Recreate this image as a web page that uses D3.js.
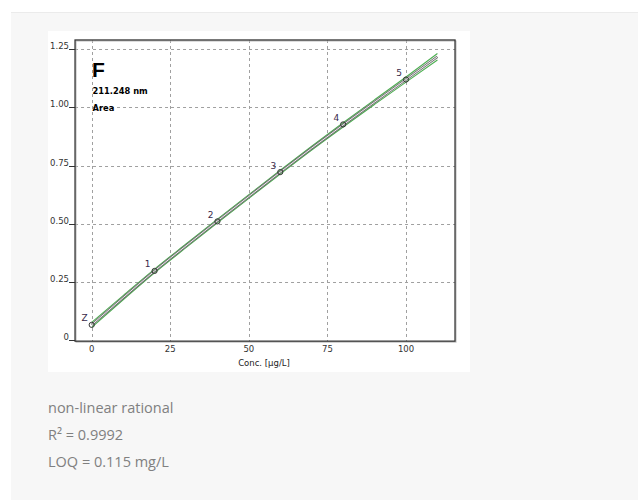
<!DOCTYPE html>
<html><head><meta charset="utf-8">
<script src="https://cdn.jsdelivr.net/npm/d3@7/dist/d3.min.js"></script>
<style>html,body{margin:0;padding:0;background:#fff;}svg{display:block;}</style>
</head><body>
<script>
// Calibration standards (concentration µg/L, area)
const stdLabels = ["Z", "1", "2", "3", "4", "5"];
const stdConc = [0, 20, 40, 60, 80, 100];
const stdArea = [0.065, 0.297, 0.51, 0.722, 0.927, 1.12];
// Fitted curve and confidence band
const curveConc = [0, 10, 20, 30, 40, 50, 60, 70, 80, 90, 100, 110];
const curveArea = [0.065, 0.182, 0.297, 0.405, 0.512, 0.617, 0.722, 0.825, 0.925, 1.023, 1.12, 1.218];
const bandUpper = [0.076, 0.191, 0.305, 0.413, 0.520, 0.625, 0.730, 0.833, 0.934, 1.033, 1.131, 1.232];
const bandLower = [0.054, 0.173, 0.289, 0.397, 0.504, 0.609, 0.714, 0.817, 0.916, 1.013, 1.109, 1.204];
const xTicks = [0, 25, 50, 75, 100];
const yTicks = [0, 0.25, 0.5, 0.75, 1.0, 1.25];
const yTickLabels = ["0", "0.25", "0.50", "0.75", "1.00", "1.25"];
const infoLines = ["non-linear rational", "R² = 0.9992", "LOQ = 0.115 mg/L"];

const W = 638, H = 500;
const svg = d3.select("body").append("svg").attr("width", W).attr("height", H);

// page panels
svg.append("rect").attr("x", 0).attr("y", 0).attr("width", W).attr("height", H).attr("fill", "#ffffff");
svg.append("rect").attr("x", 11).attr("y", 12).attr("width", W - 11).attr("height", H - 12).attr("fill", "#f7f7f7");
svg.append("line").attr("x1", 11).attr("x2", W).attr("y1", 12.5).attr("y2", 12.5).attr("stroke", "#ebebeb");
svg.append("rect").attr("x", 48).attr("y", 31).attr("width", 422).attr("height", 341).attr("fill", "#ffffff");

const x = d3.scaleLinear().domain([0, 100]).range([91.7, 406]);
const y = d3.scaleLinear().domain([0, 1.25]).range([340, 49.3]);
const xMin = -5.3, xMax = 115.6, yMin = -0.005, yMax = 1.29;
const L = x(xMin), R = x(xMax), T = y(yMax), B = y(yMin);

const font = "'DejaVu Sans', Verdana, sans-serif";

// grid
const g = svg.append("g");
g.selectAll(".gx").data(xTicks).join("line")
  .attr("x1", d => Math.round(x(d)) + 0.5).attr("x2", d => Math.round(x(d)) + 0.5)
  .attr("y1", T).attr("y2", B)
  .attr("stroke", "#a0a0a0").attr("stroke-dasharray", "3,3");
g.selectAll(".gy").data(yTicks.filter(d => d > 0)).join("line")
  .attr("x1", L).attr("x2", R)
  .attr("y1", d => Math.round(y(d)) + 0.5).attr("y2", d => Math.round(y(d)) + 0.5)
  .attr("stroke", "#a0a0a0").attr("stroke-dasharray", "3,3");

// y tick marks and labels
g.selectAll(".ty").data(yTicks).join("line")
  .attr("x1", L - 6).attr("x2", L)
  .attr("y1", d => Math.round(y(d)) + 0.5).attr("y2", d => Math.round(y(d)) + 0.5)
  .attr("stroke", "#333");
g.selectAll(".ly").data(yTicks).join("text")
  .attr("x", L - 6).attr("y", d => y(d))
  .attr("text-anchor", "end").attr("font-family", font).attr("font-size", 8.5).attr("fill", "#333")
  .text((d, i) => yTickLabels[i]);

// x labels
g.selectAll(".lx").data(xTicks).join("text")
  .attr("x", d => x(d)).attr("y", 352)
  .attr("text-anchor", "middle").attr("font-family", font).attr("font-size", 8.5).attr("fill", "#333")
  .text(d => d);
svg.append("text").attr("x", 264).attr("y", 366).attr("text-anchor", "middle")
  .attr("font-family", font).attr("font-size", 8.5).attr("fill", "#222").text("Conc. [µg/L]");

// frame with slight shadow
svg.append("rect").attr("x", L + 1).attr("y", T + 1).attr("width", R - L).attr("height", B - T)
  .attr("fill", "none").attr("stroke", "#bbb").attr("stroke-width", 1);
svg.append("rect").attr("x", L).attr("y", T).attr("width", R - L).attr("height", B - T)
  .attr("fill", "none").attr("stroke", "#333").attr("stroke-width", 1.3);

// curves
const lineGen = arr => d3.line().x((d, i) => x(curveConc[i])).y(d => y(d)).curve(d3.curveMonotoneX)(arr);
svg.append("path").attr("d", lineGen(bandUpper)).attr("fill", "none").attr("stroke", "#4caf50").attr("stroke-width", 1.1);
svg.append("path").attr("d", lineGen(bandLower)).attr("fill", "none").attr("stroke", "#4caf50").attr("stroke-width", 1.1);
svg.append("path").attr("d", lineGen(curveArea)).attr("fill", "none").attr("stroke", "#707070").attr("stroke-width", 2.6);
svg.append("path").attr("d", lineGen(curveArea)).attr("fill", "none").attr("stroke", "#ffffff").attr("stroke-width", 0.9);

// standards
svg.selectAll(".pt").data(stdConc).join("circle")
  .attr("cx", d => x(d)).attr("cy", (d, i) => y(stdArea[i])).attr("r", 2.6)
  .attr("fill", "none").attr("stroke", "#333").attr("stroke-width", 1);
svg.selectAll(".pl").data(stdConc).join("text")
  .attr("x", d => x(d) - 4).attr("y", (d, i) => y(stdArea[i]) - 3.5)
  .attr("text-anchor", "end").attr("font-family", font).attr("font-size", 9).attr("fill", "#3a2a4a")
  .text((d, i) => stdLabels[i]);

// titles
svg.append("text").attr("x", 92).attr("y", 77).attr("font-family", "'Liberation Sans', Arial, sans-serif")
  .attr("font-weight", "bold").attr("font-size", 21).attr("fill", "#000").text("F");
svg.append("text").attr("x", 92.5).attr("y", 94).attr("font-family", font)
  .attr("font-weight", "bold").attr("font-size", 8.3).attr("fill", "#000").text("211.248 nm");
svg.append("text").attr("x", 92.5).attr("y", 110.5).attr("font-family", font)
  .attr("font-weight", "bold").attr("font-size", 8.3).attr("fill", "#000").text("Area");

// info text
svg.selectAll(".info").data(infoLines).join("text")
  .attr("x", 48).attr("y", (d, i) => 412.5 + i * 27)
  .attr("font-family", "'Open Sans', 'Noto Sans', sans-serif").attr("font-size", 14.5).attr("fill", "#808080")
  .text(d => d);
</script>
</body></html>
